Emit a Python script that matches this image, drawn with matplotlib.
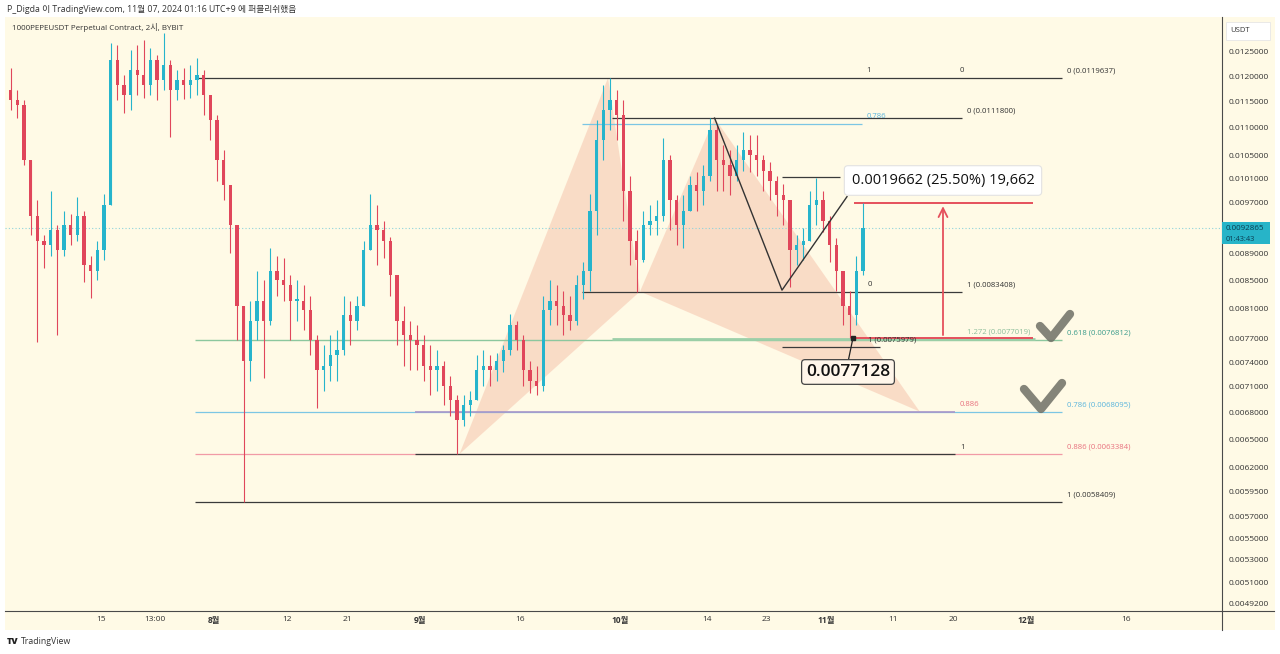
import numpy as np
import matplotlib
matplotlib.use('Agg')
import matplotlib.pyplot as plt
from matplotlib.patches import Rectangle
from matplotlib.lines import Line2D
from matplotlib.ticker import NullLocator, NullFormatter

plt.rcParams['font.family'] = ['Open Sans', 'Noto Sans CJK KR', 'DejaVu Sans']

# daily candles from 2024-07-01, open = previous close
first_open = 0.01172
closes = [0.01152, 0.01142, 0.01041, 0.00948, 0.00909, 0.00902, 0.00925, 0.00894, 0.00933, 0.00917,
          0.00948, 0.00872, 0.00864, 0.00894, 0.00965, 0.01233, 0.01182, 0.01162, 0.01213, 0.01203,
          0.01182, 0.01233, 0.01192, 0.01223, 0.01172, 0.01192, 0.01182, 0.01192, 0.01203, 0.01162,
          0.01114, 0.01041, 0.00998, 0.00933, 0.00814, 0.00742, 0.00794, 0.00821, 0.00794, 0.00864,
          0.00850, 0.00843, 0.00821, 0.00821, 0.00808, 0.00768, 0.00730, 0.00736, 0.00749, 0.00755,
          0.00801, 0.00794, 0.00814, 0.00894, 0.00933, 0.00925, 0.00909, 0.00857, 0.00794, 0.00775,
          0.00768, 0.00762, 0.00736, 0.00730, 0.00736, 0.00711, 0.00694, 0.00671, 0.00688, 0.00694,
          0.00730, 0.00736, 0.00730, 0.00742, 0.00755, 0.00788, 0.00768, 0.00730, 0.00717, 0.00711,
          0.00808, 0.00821, 0.00814, 0.00801, 0.00794, 0.00843, 0.00864, 0.00956, 0.01077, 0.01133,
          0.01152, 0.01123, 0.00989, 0.00909, 0.00879, 0.00933, 0.00940, 0.00948, 0.01041, 0.00973,
          0.00933, 0.00956, 0.00998, 0.00989, 0.01014, 0.01095, 0.01041, 0.01032, 0.01014, 0.01041,
          0.01059, 0.01050, 0.01041, 0.01023, 0.01006, 0.00981, 0.00973, 0.00894, 0.00902, 0.00909,
          0.00965, 0.00973, 0.00940, 0.00902, 0.00864, 0.00814, 0.00801, 0.00864, 0.0092865]
highs = [0.01216, 0.01172, 0.01152, 0.01041, 0.00973, 0.00917, 0.00989, 0.00933, 0.00956, 0.00951,
         0.00978, 0.00955, 0.00886, 0.00909, 0.00984, 0.01269, 0.01265, 0.01203, 0.01254, 0.01265,
         0.01276, 0.01258, 0.01244, 0.01290, 0.01233, 0.01213, 0.01216, 0.01223, 0.01238, 0.01213,
         0.01162, 0.01123, 0.01059, 0.00998, 0.00933, 0.00814, 0.00821, 0.00864, 0.00850, 0.00897,
         0.00886, 0.00882, 0.00857, 0.00850, 0.00843, 0.00828, 0.00775, 0.00762, 0.00775, 0.00781,
         0.00828, 0.00821, 0.00828, 0.00909, 0.00984, 0.00965, 0.00940, 0.00915, 0.00857, 0.00814,
         0.00794, 0.00788, 0.00775, 0.00762, 0.00755, 0.00742, 0.00723, 0.00700, 0.00700, 0.00705,
         0.00749, 0.00755, 0.00749, 0.00752, 0.00762, 0.00803, 0.00794, 0.00775, 0.00742, 0.00736,
         0.00828, 0.00850, 0.00843, 0.00835, 0.00828, 0.00857, 0.00876, 0.00984, 0.01114, 0.01182,
         0.0119637, 0.01172, 0.01152, 0.01014, 0.00925, 0.00956, 0.00965, 0.00973, 0.01081, 0.01050,
         0.00981, 0.00981, 0.01014, 0.01020, 0.01032, 0.01118, 0.01105, 0.01068, 0.01059, 0.01068,
         0.01092, 0.01086, 0.01086, 0.01050, 0.01038, 0.01014, 0.01001, 0.00973, 0.00917, 0.00928,
         0.00989, 0.01011, 0.00989, 0.00948, 0.00913, 0.00864, 0.00835, 0.00886, 0.009679]
lows = [0.01133, 0.01118, 0.01032, 0.00917, 0.00766, 0.00868, 0.00886, 0.00775, 0.00886, 0.00902,
        0.00909, 0.00847, 0.00825, 0.00850, 0.00879, 0.00965, 0.01152, 0.01127, 0.01133, 0.01162,
        0.01157, 0.01162, 0.01152, 0.01172, 0.01082, 0.01152, 0.01155, 0.01157, 0.01162, 0.01123,
        0.01077, 0.01006, 0.00973, 0.00890, 0.00768, 0.0058409, 0.00717, 0.00768, 0.00721, 0.00788,
        0.00828, 0.00821, 0.00768, 0.00794, 0.00781, 0.00749, 0.00685, 0.00705, 0.00717, 0.00717,
        0.00749, 0.00762, 0.00781, 0.00814, 0.00894, 0.00872, 0.00882, 0.00828, 0.00762, 0.00736,
        0.00730, 0.00730, 0.00717, 0.00700, 0.00705, 0.00688, 0.00676, 0.0063384, 0.00665, 0.00676,
        0.00694, 0.00711, 0.00711, 0.00717, 0.00728, 0.00749, 0.00755, 0.00711, 0.00703, 0.00700,
        0.00705, 0.00788, 0.00788, 0.00775, 0.00781, 0.00788, 0.00823, 0.00835, 0.00917, 0.01041,
        0.01095, 0.01077, 0.00940, 0.00872, 0.0083408, 0.00876, 0.00917, 0.00917, 0.00940, 0.00925,
        0.00902, 0.00897, 0.00956, 0.00956, 0.00965, 0.01006, 0.00989, 0.00989, 0.00981, 0.01006,
        0.01023, 0.01020, 0.01014, 0.00989, 0.00973, 0.00948, 0.00933, 0.00840, 0.00872, 0.00879,
        0.00909, 0.00933, 0.00922, 0.00876, 0.00835, 0.00788, 0.0077128, 0.00788, 0.00857]

price_ticks = [0.0125, 0.012, 0.0115, 0.011, 0.0105, 0.0101, 0.0097, 0.0089, 0.0085, 0.0081,
               0.0077, 0.0074, 0.0071, 0.0068, 0.0065, 0.0062, 0.00595, 0.0057, 0.0055, 0.0053,
               0.0051, 0.00492]
date_ticks = [14, 22.2, 31, 42, 51, 62, 77, 92, 105, 114, 123, 133, 142, 153, 168]
date_labels = ['15', '13:00', '8월', '12', '21', '9월', '16', '10월', '14', '23', '11월', '11', '20', '12월', '16']

# harmonic pattern points X A B C D (day, price)
pat_days = [67.9, 90.2, 95.0, 106.2, 137.0]
pat_prices = [0.0063384, 0.0119637, 0.0083408, 0.01118, 0.0068095]

W, H = 1280, 654
BG = '#fffae6'
UP = '#26b4cc'
DN = '#e0465b'


def fx(px):
    return px / W


def fy(py):
    return 1 - py / H


def px2d(px):
    return (px - 7.3) / 6.66


def py2p(py):
    return 0.0125 * np.exp(-(py - 52) / 592)


fig = plt.figure(figsize=(12.8, 6.54), dpi=100, facecolor='white')
fig.patches.append(Rectangle((fx(5), fy(630)), fx(1275) - fx(5), fy(17) - fy(630),
                             transform=fig.transFigure, fc=BG, ec='none', zorder=-5))
ax = fig.add_axes([fx(5), fy(611), fx(1222) - fx(5), fy(17) - fy(611)])
ax.set_facecolor(BG)
ax.set_yscale('log')
ax.set_xlim(px2d(5), px2d(1222))
ax.set_ylim(py2p(611), py2p(17))

# candles
closes_a = np.array(closes)
opens_a = np.array([first_open] + closes[:-1])
xs = np.arange(len(closes)) + 0.5
cols = [UP if c >= o else DN for o, c in zip(opens_a, closes_a)]
ax.vlines(xs, lows, highs, colors=cols, lw=0.8, zorder=4)
body_lo = np.minimum(opens_a, closes_a)
body_h = np.maximum(np.abs(closes_a - opens_a), 0.00002)
ax.bar(xs, body_h, bottom=body_lo, width=0.5, color=cols, zorder=5)

# last price dotted line
ax.axhline(closes[-1], color='#8fd3dc', lw=0.8, ls=(0, (1, 2)), zorder=2)

# harmonic pattern fill
fillc = '#f5bfa8'
ax.fill(pat_days[0:3], pat_prices[0:3], color=fillc, alpha=0.5, lw=0, zorder=1)
ax.fill(pat_days[2:5], pat_prices[2:5], color=fillc, alpha=0.5, lw=0, zorder=1)


def hline(price, px0, px1, color, lw=0.9):
    ax.hlines(price, px2d(px0), px2d(px1), colors=color, lw=lw, zorder=3)


def lab(px, price, text, color='#333333', size=5.6):
    ax.annotate(text, (px2d(px), price), xytext=(0, 2.5), textcoords='offset points',
                ha='left', va='bottom', fontsize=size, color=color, zorder=6)


BLK = '#3a3a3a'
GRN = '#8cc79e'
BLU = '#7cc6e4'
PNK = '#f19aa6'

hline(0.0119637, 198, 1062, BLK)
lab(866, 0.0119637, '1')
lab(960, 0.0119637, '0')
lab(1067, 0.0119637, '0 (0.0119637)')

hline(0.01118, 612, 962, BLK)
lab(967, 0.01118, '0 (0.0111800)')
hline(0.01107, 582, 862, BLU)
lab(867, 0.01107, '0.786', color='#5ab4dc')
hline(0.01012, 782, 840, BLK)

hline(0.0083408, 582, 962, BLK)
lab(868, 0.0083408, '0')
lab(967, 0.0083408, '1 (0.0083408)')

hline(0.0076812, 195, 1062, GRN, lw=1.0)
hline(0.0077019, 612, 1035, '#9ccfa8', lw=2.0)
lab(967, 0.0077019, '1.272 (0.0077019)', color='#8fbf9c')
lab(1067, 0.0076812, '0.618 (0.0076812)', color='#3c9c8c')
hline(0.0075979, 782, 880, BLK)
lab(868, 0.0075979, '1 (0.0075979)')

hline(0.0068095, 195, 1062, BLU)
hline(0.0068095, 415, 955, '#a996c9', lw=1.2)
lab(960, 0.0068095, '0.886', color='#e8727f')
lab(1067, 0.0068095, '0.786 (0.0068095)', color='#5ab4dc')

hline(0.0063384, 195, 1062, PNK)
hline(0.0063384, 415, 955, BLK)
lab(960, 0.0063384, '1')
lab(1067, 0.0063384, '0.886 (0.0063384)', color='#e8727f')

hline(0.0058409, 195, 1062, BLK)
lab(1067, 0.0058409, '1 (0.0058409)')

# zigzag
ax.plot([pat_days[3], px2d(782), px2d(847)], [pat_prices[3], 0.00836, 0.00979],
        color='#333333', lw=1.0, zorder=6)

# measurement
RED = '#e5505c'
hline(0.009679, 854, 1033, RED, lw=1.4)
hline(0.0077128, 854, 1033, RED, lw=1.4)
ax.annotate('', xy=(px2d(943), 0.009679), xytext=(px2d(943), 0.0077128),
            arrowprops=dict(arrowstyle='->', color=RED, lw=1.3, mutation_scale=16), zorder=6)
ax.text(px2d(943), py2p(180.5), '0.0019662 (25.50%) 19,662', ha='center', va='center',
        fontsize=10.5, color='#111111', zorder=8,
        bbox=dict(boxstyle='round,pad=0.5,rounding_size=0.25', fc='white', ec='#e2e2e2', lw=0.8))

ax.plot([px2d(853), px2d(848)], [0.0077128, py2p(362)], color='#222222', lw=0.9, zorder=7)
ax.plot([px2d(853)], [0.0077128], 's', color='#222222', ms=2.5, zorder=7)
ax.text(px2d(848), py2p(372), '0.0077128', ha='center', va='center', fontsize=12.5,
        color='#111111', fontweight='semibold', zorder=8,
        bbox=dict(boxstyle='round,pad=0.25,rounding_size=0.2', fc='#fff6ea', ec='#444444', lw=0.9))

# axes styling
for s in ['top', 'left']:
    ax.spines[s].set_visible(False)
for s in ['right', 'bottom']:
    ax.spines[s].set_color('#4a4a4a')
    ax.spines[s].set_linewidth(0.8)
ax.yaxis.tick_right()
ax.yaxis.set_minor_locator(NullLocator())
ax.yaxis.set_minor_formatter(NullFormatter())
ax.set_yticks(price_ticks)
ax.set_yticklabels([f'{t:.7f}' for t in price_ticks])
ax.tick_params(axis='y', length=0, pad=4.5, labelsize=6, labelcolor='#333333')
ax.set_xticks(date_ticks)
ax.set_xticklabels(date_labels)
ax.tick_params(axis='x', length=0, pad=3.5, labelsize=6, labelcolor='#333333')
for t in ax.get_xticklabels():
    if '월' in t.get_text():
        t.set_fontweight('bold')

fig.add_artist(Line2D([fx(1222), fx(1274)], [fy(611), fy(611)], transform=fig.transFigure,
                      color='#4a4a4a', lw=0.8))
fig.add_artist(Line2D([fx(1222), fx(1222)], [fy(611), fy(630)], transform=fig.transFigure,
                      color='#4a4a4a', lw=0.8))

# current price tag
fig.patches.append(Rectangle((fx(1222), fy(244)), fx(48), fy(0) - fy(22),
                             transform=fig.transFigure, fc='#27b4c8', ec='none', zorder=5))
fig.text(fx(1226), fy(228), '0.0092865', fontsize=5.8, color='#0b3d52', va='center', zorder=6)
fig.text(fx(1226), fy(239), '01:43:43', fontsize=5.3, color='#0b3d52', va='center', zorder=6)

# USDT box
fig.patches.append(Rectangle((fx(1226), fy(40)), fx(44), fy(0) - fy(18),
                             transform=fig.transFigure, fc='white', ec='#e6e6e6', lw=0.6, zorder=5))
fig.text(fx(1230), fy(31), 'USDT', fontsize=5.5, color='#333333', va='center', zorder=6)

# header texts
fig.text(fx(7), fy(9), 'P_Digda 이 TradingView.com, 11월 07, 2024 01:16 UTC+9 에 퍼블리쉬했음',
         fontsize=6.3, color='#333333', va='center')
fig.text(fx(12), fy(28), '1000PEPEUSDT Perpetual Contract, 2시, BYBIT', fontsize=5.8,
         color='#333333', va='center')
fig.text(fx(7), fy(641), 'TV', fontsize=6.5, color='#222222', va='center', fontweight='heavy')
fig.text(fx(21), fy(641), 'TradingView', fontsize=6.3, color='#333333', va='center')

# check marks
for pts in [[(1040, 326), (1051, 338), (1070, 314)], [(1024, 389), (1041, 409), (1062, 383)]]:
    fig.add_artist(Line2D([fx(p[0]) for p in pts], [fy(p[1]) for p in pts],
                          transform=fig.transFigure, color='#6f6f66', alpha=0.85, lw=6,
                          solid_capstyle='round', solid_joinstyle='round', zorder=9))

fig.savefig('out.png', dpi=100, facecolor='white')
